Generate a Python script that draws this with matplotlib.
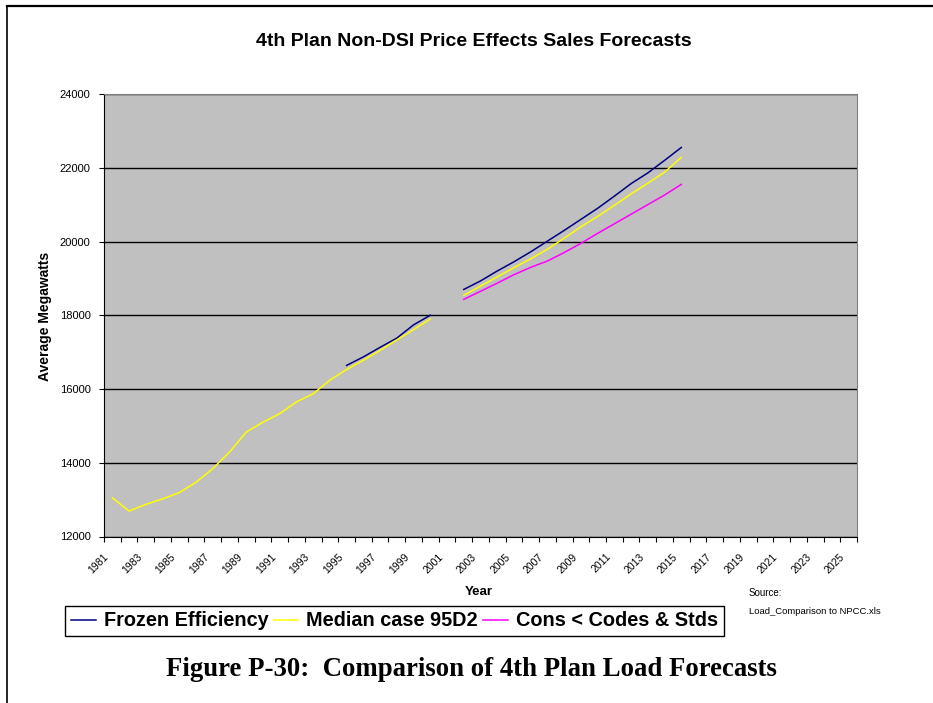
"""Plot the 4th Plan non-DSI sales forecasts (price effects cases) to out.png."""

from __future__ import annotations

import matplotlib

matplotlib.use("Agg")

import matplotlib.pyplot as plt
import matplotlib.transforms as mtransforms
import numpy as np
from matplotlib.lines import Line2D

FIG_W_PX, FIG_H_PX = 933, 703
DPI = 100

SANS = "Liberation Sans"
SERIF = "Liberation Serif"

YEARS = list(range(1981, 2026))

# Average megawatts by year; years missing from a dict are gaps in that case.
FROZEN_EFFICIENCY = {
    1995: 16640, 1996: 16870, 1997: 17130, 1998: 17380, 1999: 17740, 2000: 18000,
    2002: 18700, 2003: 18930, 2004: 19200, 2005: 19450, 2006: 19720, 2007: 20010,
    2008: 20300, 2009: 20600, 2010: 20900, 2011: 21230, 2012: 21570, 2013: 21860,
    2014: 22200, 2015: 22550,
}
MEDIAN_95D2 = {
    1981: 13050, 1982: 12690, 1983: 12870, 1984: 13020, 1985: 13190, 1986: 13470,
    1987: 13840, 1988: 14290, 1989: 14830, 1990: 15100, 1991: 15330, 1992: 15650,
    1993: 15870, 1994: 16240, 1995: 16530, 1996: 16780, 1997: 17050, 1998: 17330,
    1999: 17610, 2000: 17900,
    2002: 18540, 2003: 18790, 2004: 19040, 2005: 19290, 2006: 19530, 2007: 19790,
    2008: 20090, 2009: 20400, 2010: 20680, 2011: 20980, 2012: 21290, 2013: 21580,
    2014: 21880, 2015: 22280,
}
CONS_CODES_STDS = {
    2002: 18430, 2003: 18650, 2004: 18870, 2005: 19100, 2006: 19300, 2007: 19470,
    2008: 19700, 2009: 19950, 2010: 20220, 2011: 20480, 2012: 20740, 2013: 21000,
    2014: 21260, 2015: 21550,
}

SERIES = [
    ("Frozen Efficiency", FROZEN_EFFICIENCY, "#000080"),
    ("Median case 95D2", MEDIAN_95D2, "#ffff00"),
    ("Cons < Codes & Stds", CONS_CODES_STDS, "#ff00ff"),
]

Y_TICKS = [12000, 14000, 16000, 18000, 20000, 22000, 24000]


def _fx(px: float) -> float:
    return px / FIG_W_PX


def _fy(px: float) -> float:
    """Figure fraction for a pixel row counted from the top."""
    return 1 - px / FIG_H_PX


def _as_array(values: dict[int, float]) -> np.ndarray:
    return np.array([values.get(year, np.nan) for year in YEARS], dtype=float)


def _style_axes(fig: plt.Figure, ax: plt.Axes) -> None:
    ax.set_facecolor("#c0c0c0")
    for side in ("top", "right"):
        ax.spines[side].set_color("#808080")
    for side in ("left", "bottom"):
        ax.spines[side].set_color("black")

    ax.set_ylim(Y_TICKS[0], Y_TICKS[-1])
    ax.set_yticks(Y_TICKS)
    ax.set_yticklabels([str(v) for v in Y_TICKS], fontsize=8, family=SANS)
    ax.tick_params(axis="y", direction="out", length=3.6, width=0.8, pad=6)
    ax.yaxis.grid(True, color="black", linewidth=1.0)
    ax.set_axisbelow(True)

    positions = np.arange(len(YEARS))
    ax.set_xlim(-0.5, len(YEARS) - 0.5)
    ax.set_xticks(positions[::2])
    ax.set_xticklabels([str(y) for y in YEARS[::2]], fontsize=7.5, family=SANS)
    ax.set_xticks(np.arange(len(YEARS) + 1) - 0.5, minor=True)
    ax.tick_params(axis="x", which="major", length=0, pad=13.5)
    ax.tick_params(axis="x", which="minor", direction="out", length=3.6, width=0.8)

    shift = mtransforms.ScaledTranslation(-5.5 / DPI, 0, fig.dpi_scale_trans)
    for label in ax.get_xticklabels():
        label.set_rotation(45)
        label.set_rotation_mode("anchor")
        label.set_ha("right")
        label.set_va("center")
        label.set_transform(label.get_transform() + shift)


def _add_frame(fig: plt.Figure) -> None:
    fig.add_artist(Line2D([_fx(7), 1.0], [_fy(6), _fy(6)], color="black",
                          linewidth=1.6, transform=fig.transFigure))
    fig.add_artist(Line2D([_fx(7), _fx(7)], [_fy(6), 0.0], color="black",
                          linewidth=1.2, transform=fig.transFigure))


def main() -> None:
    fig = plt.figure(figsize=(FIG_W_PX / DPI, FIG_H_PX / DPI), dpi=DPI)
    fig.patch.set_facecolor("white")
    ax = fig.add_axes([_fx(104), _fy(536.5), _fx(857 - 104), (536.5 - 94) / FIG_H_PX])

    positions = np.arange(len(YEARS))
    handles = []
    for name, values, color in SERIES:
        (line,) = ax.plot(positions, _as_array(values), color=color, linewidth=1.1, label=name)
        handles.append(line)

    _style_axes(fig, ax)

    fig.text(_fx(474), _fy(42), "4th Plan Non-DSI Price Effects Sales Forecasts",
             ha="center", va="center", fontsize=14, fontweight="bold", family=SANS)
    fig.text(_fx(45), _fy(316), "Average Megawatts", rotation=90,
             ha="center", va="center", fontsize=10, fontweight="bold", family=SANS)
    fig.text(_fx(479), _fy(592), "Year", ha="center", va="center",
             fontsize=9.5, fontweight="bold", family=SANS)
    fig.text(_fx(749), _fy(593), "Source:", ha="left", va="center", fontsize=7, family=SANS)
    fig.text(_fx(749), _fy(611), "Load_Comparison to NPCC.xls", ha="left", va="center",
             fontsize=6.8, family=SANS)

    legend = fig.legend(
        handles=handles,
        loc="center",
        bbox_to_anchor=(_fx(394.5), _fy(621)),
        ncol=3,
        frameon=True,
        fancybox=False,
        shadow=False,
        edgecolor="black",
        framealpha=1.0,
        borderpad=0.3,
        handlelength=1.25,
        handletextpad=0.4,
        columnspacing=0.25,
        prop={"family": SANS, "weight": "bold", "size": 14.3},
    )
    legend.get_frame().set_linewidth(1.0)

    fig.text(_fx(471), _fy(670), "Figure P-30:  Comparison of 4th Plan Load Forecasts",
             ha="center", va="center", fontsize=19.3, fontweight="bold", family=SERIF)

    _add_frame(fig)
    fig.savefig("out.png", dpi=DPI)
    plt.close(fig)


if __name__ == "__main__":
    main()
